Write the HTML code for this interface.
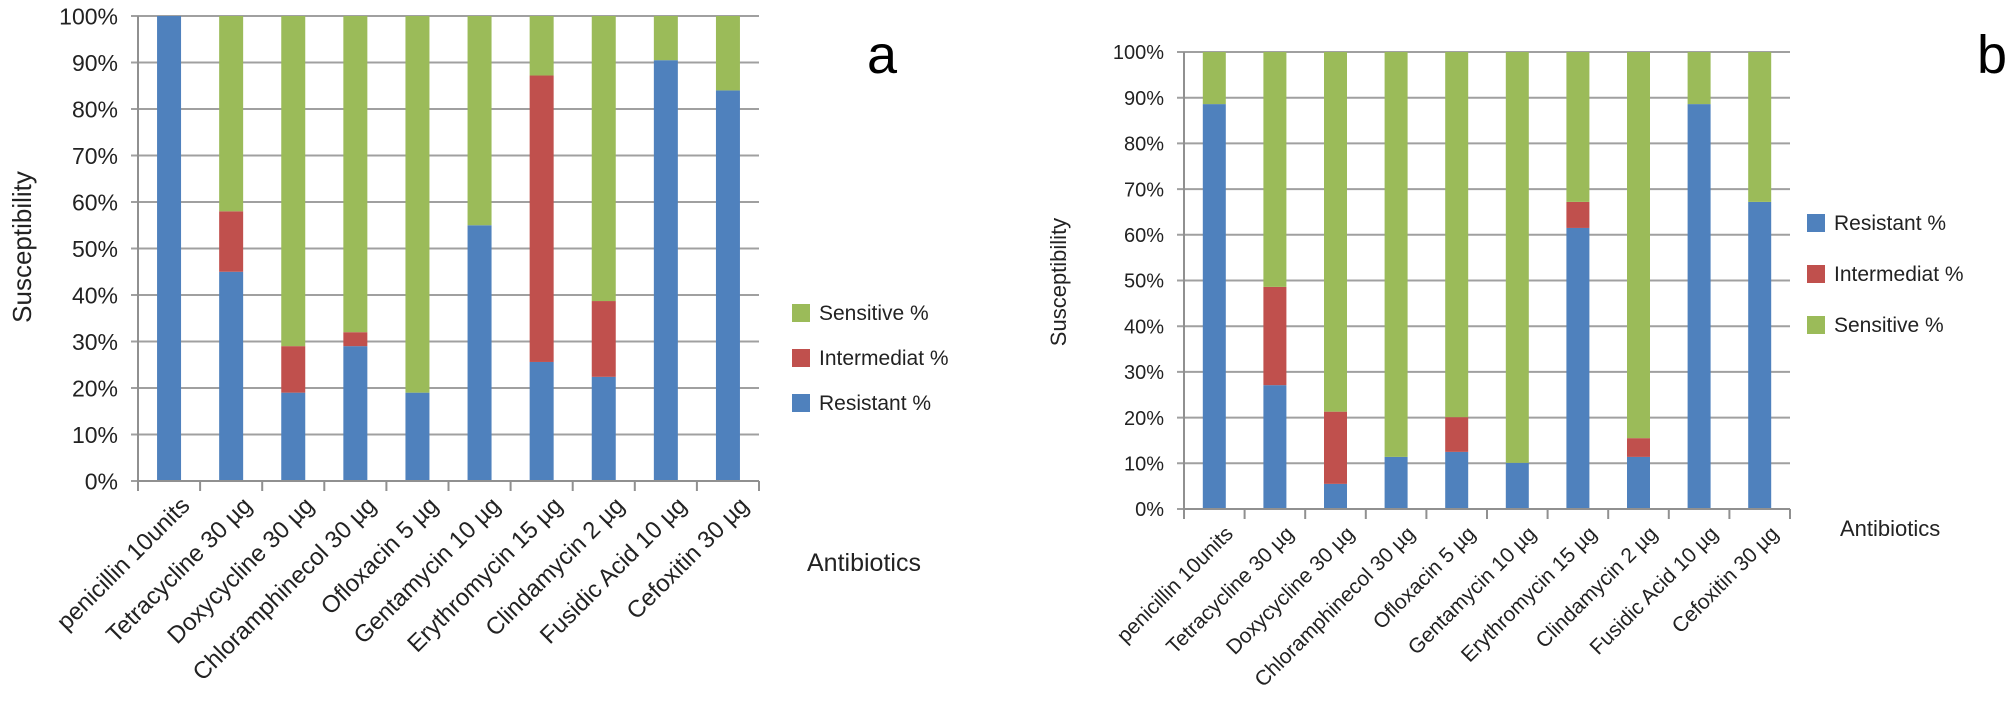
<!DOCTYPE html>
<html><head><meta charset="utf-8"><style>
html,body{margin:0;padding:0;background:#fff;}
svg{display:block;font-family:"Liberation Sans",Arial,sans-serif;}
</style></head><body>
<svg id="chart" width="2010" height="723" viewBox="0 0 2010 723" xmlns="http://www.w3.org/2000/svg">
<text x="867" y="73" font-size="54" fill="#000">a</text>
<text x="1977" y="73" font-size="54" fill="#000">b</text>
</svg>
<script>
const categories = ["penicillin 10units","Tetracycline 30 µg","Doxycycline  30 µg","Chloramphinecol 30 µg","Ofloxacin  5 µg","Gentamycin  10 µg","Erythromycin  15 µg","Clindamycin  2 µg","Fusidic Acid  10 µg","Cefoxitin  30 µg"];
const yTicks = ["0%","10%","20%","30%","40%","50%","60%","70%","80%","90%","100%"];
const resistantA = [100,45,19,29,19,55,25.6,22.4,90.5,84];
const intermediateA = [0,13,10,3,0,0,61.6,16.3,0,0];
const sensitiveA = [0,42,71,68,81,45,12.8,61.3,9.5,16];
const resistantB = [88.6,27.1,5.5,11.4,12.5,10.1,61.5,11.4,88.6,67.2];
const intermediateB = [0,21.5,15.8,0,7.6,0,5.7,4.1,0,0];
const sensitiveB = [11.4,51.4,78.7,88.6,79.9,89.9,32.8,84.5,11.4,32.8];

const NS="http://www.w3.org/2000/svg";
const svg=document.getElementById('chart');
const COL={R:"#4F81BD",I:"#C0504D",S:"#9BBB59"};
function mk(tag,attrs,parent){const e=document.createElementNS(NS,tag);for(const k in attrs)e.setAttribute(k,attrs[k]);(parent||svg).appendChild(e);return e;}

function drawChart(cfg){
  const g=mk('g',{});
  
  
  const n=categories.length, cw=(cfg.right-cfg.left)/n;
  const y=v=>cfg.bottom-(v/100)*(cfg.bottom-cfg.top);
  const xc=i=>cfg.left+cw*(i+0.5);
  yTicks.forEach((t,k)=>{
    const v=k*10, yy=y(v);
    const l=mk('line',{x1:cfg.left-7,x2:cfg.right,y1:yy,y2:yy,stroke:"#A0A0A0","stroke-width":2},g);
    
    
    const tx=mk('text',{x:cfg.left-20,y:yy+cfg.tickFs*0.36,"text-anchor":"end","font-size":cfg.tickFs,fill:"#222"},g);
    tx.textContent=t;
    
    
  });
  const ax=mk('line',{x1:cfg.left,x2:cfg.left,y1:cfg.top,y2:cfg.bottom+10,stroke:"#909090","stroke-width":2},g);
  
  
  for(let i=0;i<=n;i++){
    const xx=cfg.left+cw*i;
    const tk=mk('line',{x1:xx,x2:xx,y1:cfg.bottom,y2:cfg.bottom+10,stroke:"#909090","stroke-width":2},g);
    
    
  }
  categories.forEach((c,i)=>{
    let base=0;
    cfg.order.forEach(key=>{
      const v=cfg.data[key][i];
      if(v<=0)return;
      const r=mk('rect',{x:xc(i)-cfg.bw/2,y:y(base+v),width:cfg.bw,height:y(base)-y(base+v),fill:COL[key]},g);
      
      
      base+=v;
    });
    const lx=xc(i)+cfg.lblDx, ly=cfg.bottom+cfg.lblDy;
    const t=mk('text',{x:lx,y:ly,"text-anchor":"end","font-size":cfg.lblFs,fill:"#222",transform:`rotate(-45 ${lx} ${ly})`},g);
    t.textContent=c;
    
    
  });
  const xb=mk('line',{x1:cfg.left,x2:cfg.right,y1:cfg.bottom,y2:cfg.bottom,stroke:"#909090","stroke-width":2},g);
  
  
  const yt=mk('text',{x:cfg.ytX,y:cfg.ytY,"text-anchor":"middle","font-size":cfg.titleFs,fill:"#222",transform:`rotate(-90 ${cfg.ytX} ${cfg.ytY})`},g);
  yt.textContent="Susceptibility";
  
  
  const xt=mk('text',{x:cfg.xtX,y:cfg.xtY,"font-size":cfg.xtFs,fill:"#222"},g);
  xt.textContent="Antibiotics";
  
  
  cfg.legend.forEach((L,k)=>{
    const ly=cfg.legY+k*cfg.legGap;
    const s=mk('rect',{x:cfg.legX,y:ly-9,width:18,height:18,fill:COL[L[0]]},g);
    
    
    const t=mk('text',{x:cfg.legX+27,y:ly+7,"font-size":cfg.legFs,fill:"#222"},g);
    t.textContent=L[1];
    
    
  });
}
drawChart({id:'a',left:138,right:759,top:16,bottom:481,bw:24,tickFs:23,lblFs:24,lblDx:22,lblDy:26,
  data:{R:resistantA,I:intermediateA,S:sensitiveA},order:['R','I','S'],
  ytX:31,ytY:247,titleFs:26,xtX:807,xtY:571,xtFs:25,legFs:21,
  legX:792,legY:313,legGap:45,legend:[['S','Sensitive %'],['I','Intermediat %'],['R','Resistant %']]});
drawChart({id:'b',left:1184,right:1790,top:52,bottom:509,bw:23,tickFs:20,lblFs:21,lblDx:20,lblDy:26,
  data:{R:resistantB,I:intermediateB,S:sensitiveB},order:['R','I','S'],
  ytX:1066,ytY:282,titleFs:22,xtX:1840,xtY:536,xtFs:22,legFs:21,
  legX:1807,legY:223,legGap:51,legend:[['R','Resistant %'],['I','Intermediat %'],['S','Sensitive %']]});
</script>
</body></html>
